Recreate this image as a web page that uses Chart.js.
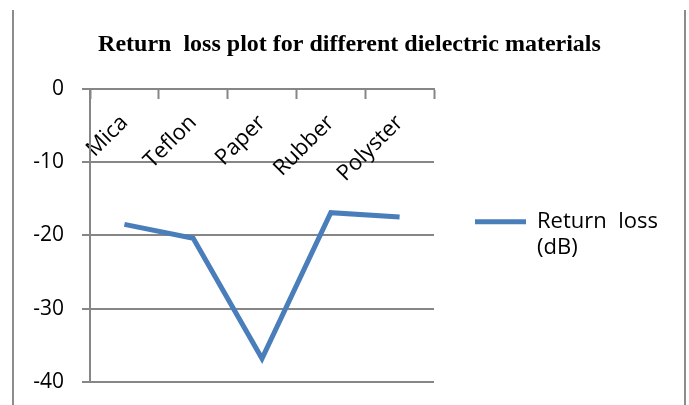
<!DOCTYPE html>
<html>
<head>
<meta charset="utf-8">
<script src="https://cdn.jsdelivr.net/npm/chart.js@4"></script>
<style>
  html, body { margin: 0; padding: 0; background: #fff; }
  #wrap { width: 689px; height: 405px; }
</style>
</head>
<body>
<div id="wrap"><canvas id="myChart" width="689" height="405"></canvas></div>
<script>
let materials = ['Mica', 'Teflon', 'Paper', 'Rubber', 'Polyster'];
let returnLoss = [-18.5, -20.4, -36.8, -16.9, -17.5];
let seriesName = ['Return  loss', '(dB)'];
let yTicks = [0, -10, -20, -30, -40];

const gridGrey = '#868686';
const lineBlue = '#4a7ebb';

// the two grey frame lines left and right, plus a fixed legend width
const framePlugin = {
    id: 'frame',
    beforeLayout(chart) {
        const lg = chart.legend;
        if (lg && !lg._fixed) {
            const fit = lg.fit.bind(lg);
            lg.fit = function () { fit(); this.width = 255; };
            lg._fixed = true;
        }
    },
    beforeDraw(chart) {
        const c = chart.ctx;
        c.save();
        c.fillStyle = '#fff';
        c.fillRect(0, 0, chart.width, chart.height);
        c.strokeStyle = '#8c8c8c';
        c.lineWidth = 2;
        c.beginPath();
        c.moveTo(13, 10); c.lineTo(13, chart.height);
        c.moveTo(685, 10); c.lineTo(685, chart.height);
        c.stroke();
        c.restore();
    }
};

let ctx = document.getElementById('myChart').getContext('2d');

let chart1 = new Chart(ctx, {
    type: 'line',
    data: {
        labels: materials,
        datasets: [{
            label: seriesName,
            data: returnLoss,
            borderColor: lineBlue,
            backgroundColor: lineBlue,
            borderWidth: 5,
            pointRadius: 0,
            tension: 0,
            fill: false
        }]
    },
    options: {
        responsive: false,
        animation: false,
        layout: {
            padding: { left: 10, right: 0, top: 0, bottom: 23 }
        },
        plugins: {
            title: {
                display: true,
                text: 'Return  loss plot for different dielectric materials',
                color: '#000',
                font: { family: 'Liberation Serif', size: 24, weight: 'bold' },
                padding: { top: 30, bottom: 30 }
            },
            legend: {
                display: true,
                position: 'right',
                maxWidth: 255,
                title: {
                    display: true,
                    text: '',
                    padding: { top: 0, bottom: 78 }
                },
                labels: {
                    color: '#000',
                    font: { family: 'Open Sans', size: 22 },
                    boxWidth: 51,
                    boxHeight: 5,
                    padding: 41,
                    generateLabels(chart) {
                        const ds = chart.data.datasets[0];
                        return [{
                            text: ds.label,
                            fillStyle: ds.borderColor,
                            strokeStyle: ds.borderColor,
                            fontColor: '#000',
                            lineWidth: 0,
                            datasetIndex: 0
                        }];
                    }
                }
            },
            tooltip: { enabled: false }
        },
        scales: {
            x: {
                position: { y: 0 },
                offset: true,
                afterFit(scale) { scale.height = 0; },
                border: { color: gridGrey, width: 2 },
                grid: {
                    offset: true,
                    drawOnChartArea: false,
                    drawTicks: true,
                    tickLength: 9,
                    tickColor: gridGrey,
                    tickWidth: 2
                },
                ticks: {
                    color: '#000',
                    font: { family: 'Open Sans', size: 22 },
                    minRotation: 45,
                    maxRotation: 45,
                    padding: 12
                }
            },
            y: {
                min: -40,
                max: 0,
                afterFit(scale) {
                    scale.width = 80;
                    scale.paddingTop = 0;
                    scale.paddingBottom = 0;
                },
                afterBuildTicks(scale) {
                    scale.ticks = yTicks.map(v => ({ value: v }));
                },
                border: { color: gridGrey, width: 2 },
                grid: {
                    color: gridGrey,
                    lineWidth: 2,
                    drawTicks: true,
                    tickLength: 8
                },
                ticks: {
                    color: '#000',
                    font: { family: 'Open Sans', size: 21 },
                    padding: 18
                }
            }
        }
    },
    plugins: [framePlugin]
});
</script>
</body>
</html>
